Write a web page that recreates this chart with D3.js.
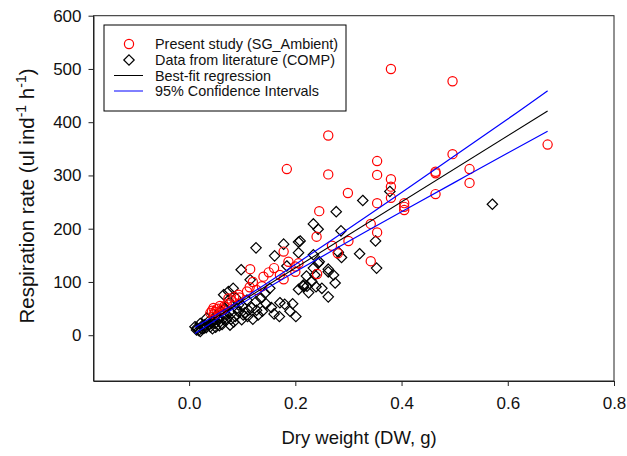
<!DOCTYPE html>
<html>
<head>
<meta charset="utf-8">
<script src="https://cdn.jsdelivr.net/npm/d3@7"></script>
<style>
  body { margin: 0; background: #fff; }
  svg { display: block; font-family: "Liberation Sans", Arial, sans-serif; }
</style>
</head>
<body>
<svg id="chart" width="627" height="456"></svg>
<script>
// present study (SG_Ambient), dry weight g / respiration ul ind-1 h-1
var sgX = [0.380, 0.496, 0.262, 0.184, 0.262, 0.354, 0.354, 0.380, 0.380, 0.380,
  0.299, 0.354, 0.245, 0.405, 0.405, 0.405, 0.464, 0.464, 0.464, 0.496,
  0.528, 0.528, 0.675, 0.342, 0.354, 0.300, 0.342, 0.240, 0.269, 0.280,
  0.178, 0.187, 0.206, 0.200, 0.160, 0.171, 0.178, 0.241, 0.200, 0.140,
  0.115, 0.137, 0.127, 0.114, 0.109, 0.093, 0.095, 0.074, 0.071, 0.058,
  0.046, 0.049, 0.052, 0.043, 0.062, 0.066, 0.080, 0.085, 0.150, 0.120,
  0.047, 0.055, 0.040];
var sgY = [500, 477, 375, 312, 302, 327, 301, 293, 279, 258,
  267, 248, 233, 248, 241, 235, 307, 304, 265, 340,
  312, 286, 358, 209, 193, 177, 139, 185, 168, 154,
  157, 138, 135, 129, 126, 113, 105, 115, 119, 110,
  124, 92, 85, 90, 82, 76, 71, 69, 58, 55,
  51, 44, 49, 46, 48, 54, 65, 72, 118, 100,
  40, 50, 42];

// data from literature (COMP)
var compX = [0.571, 0.378, 0.327, 0.277, 0.234, 0.243, 0.286, 0.351, 0.209, 0.206,
  0.178, 0.321, 0.287, 0.281, 0.234, 0.206, 0.353, 0.243, 0.262, 0.184,
  0.126, 0.161, 0.245, 0.098, 0.115, 0.083, 0.074, 0.065, 0.234, 0.237,
  0.262, 0.215, 0.206, 0.222, 0.239, 0.275, 0.262, 0.171, 0.195, 0.170,
  0.201, 0.145, 0.130, 0.099, 0.077, 0.011, 0.021, 0.033, 0.046, 0.058,
  0.040, 0.028, 0.127, 0.112, 0.093, 0.080, 0.143, 0.152, 0.126, 0.109,
  0.093, 0.071, 0.065, 0.087, 0.052, 0.049, 0.021, 0.014, 0.221, 0.215,
  0.231, 0.272, 0.030, 0.036, 0.055, 0.060, 0.068, 0.075, 0.088, 0.100,
  0.105, 0.118, 0.135, 0.015, 0.025, 0.050, 0.062, 0.084, 0.110, 0.120,
  0.138, 0.155, 0.160, 0.180, 0.190, 0.225, 0.250, 0.018, 0.024, 0.032,
  0.038, 0.044, 0.057, 0.070, 0.079, 0.090, 0.102, 0.044, 0.066];
var compY = [246, 270, 253, 232, 209, 199, 196, 177, 177, 175,
  171, 153, 146, 156, 151, 155, 126, 135, 124, 130,
  164, 149, 138, 123, 104, 88, 82, 76, 126, 113,
  119, 92, 86, 92, 91, 98, 72, 61, 59, 35,
  35, 59, 38, 29, 19, 16, 22, 32, 29, 25,
  16, 13, 47, 47, 44, 41, 79, 88, 63, 66,
  57, 38, 32, 35, 38, 22, 7, 10, 111, 94,
  101, 113, 20, 25, 30, 45, 50, 60, 70, 55,
  42, 52, 70, 14, 18, 15, 20, 25, 35, 30,
  45, 52, 40, 58, 45, 80, 88, 9, 12, 14,
  20, 24, 18, 28, 30, 50, 38, 12, 40];

// regression and 95% confidence band
var fitX = [0.011, 0.675];
var fitY = [9, 421];
var ciX = [0.011, 0.1, 0.2, 0.3, 0.4, 0.5, 0.6, 0.675];
var ciUpper = [15, 68, 133, 200, 268, 337, 406, 459];
var ciLower = [3, 60, 119, 176, 232, 287, 342, 383];

var xTicks = [0, 0.2, 0.4, 0.6, 0.8];
var yTicks = [0, 100, 200, 300, 400, 500, 600];
var legendLabels = ["Present study (SG_Ambient)", "Data from literature (COMP)",
  "Best-fit regression", "95% Confidence Intervals"];

var svg = d3.select("#chart");
var plot = { left: 93.5, right: 614, top: 15.7, bottom: 381 };

var x = d3.scaleLinear().domain([-0.18, 0.8]).range([plot.left, plot.right]);
var y = d3.scaleLinear().domain([-86, 600]).range([plot.bottom, plot.top]);

// frame
svg.append("rect")
  .attr("x", plot.left).attr("y", plot.top)
  .attr("width", plot.right - plot.left).attr("height", plot.bottom - plot.top)
  .attr("fill", "none").attr("stroke", "#222").attr("stroke-width", 1);

var xAxis = svg.append("g")
  .attr("transform", "translate(0," + plot.bottom + ")")
  .call(d3.axisBottom(x).tickValues(xTicks).tickFormat(d3.format(".1f"))
    .tickSizeInner(5).tickSizeOuter(0).tickPadding(11));
var yAxis = svg.append("g")
  .attr("transform", "translate(" + plot.left + ",0)")
  .call(d3.axisLeft(y).tickValues(yTicks).tickSizeInner(5).tickSizeOuter(0).tickPadding(7));

[xAxis, yAxis].forEach(function (g) {
  g.select(".domain").attr("stroke", "#222");
  g.selectAll(".tick line").attr("stroke", "#222");
  g.selectAll(".tick text").attr("font-size", 17).attr("fill", "#111")
    .style("font-family", "'Liberation Sans', Arial, sans-serif");
});

// axis titles
svg.append("text")
  .attr("x", 359).attr("y", 444)
  .attr("text-anchor", "middle").attr("font-size", 18.5).attr("fill", "#111")
  .text("Dry weight (DW, g)");

var yTitle = svg.append("text")
  .attr("transform", "translate(34,196) rotate(-90)")
  .attr("text-anchor", "middle").attr("font-size", 20.5).attr("fill", "#111");
yTitle.append("tspan").text("Respiration rate (ul ind");
yTitle.append("tspan").attr("baseline-shift", "super").attr("font-size", 14).text("-1");
yTitle.append("tspan").text(" h");
yTitle.append("tspan").attr("baseline-shift", "super").attr("font-size", 14).text("-1");
yTitle.append("tspan").text(")");

var diamond = function (r) {
  return "M0," + (-r) + "L" + r + ",0L0," + r + "L" + (-r) + ",0Z";
};

// literature diamonds
svg.append("g").selectAll("path")
  .data(d3.range(compX.length)).enter()
  .append("path")
  .attr("transform", function (i) { return "translate(" + x(compX[i]) + "," + y(compY[i]) + ")"; })
  .attr("d", diamond(5.2))
  .attr("fill", "none").attr("stroke", "#000").attr("stroke-width", 1.2);

// present study circles
svg.append("g").selectAll("circle")
  .data(d3.range(sgX.length)).enter()
  .append("circle")
  .attr("cx", function (i) { return x(sgX[i]); })
  .attr("cy", function (i) { return y(sgY[i]); })
  .attr("r", 4.6)
  .attr("fill", "none").attr("stroke", "#ff0000").attr("stroke-width", 1.2);

// regression + CI
var line = d3.line()
  .x(function (d) { return x(d[0]); })
  .y(function (d) { return y(d[1]); });
var smooth = d3.line()
  .x(function (d) { return x(d[0]); })
  .y(function (d) { return y(d[1]); })
  .curve(d3.curveNatural);

svg.append("path").datum(d3.zip(ciX, ciUpper))
  .attr("d", smooth).attr("fill", "none").attr("stroke", "#0000ff").attr("stroke-width", 1.2);
svg.append("path").datum(d3.zip(ciX, ciLower))
  .attr("d", smooth).attr("fill", "none").attr("stroke", "#0000ff").attr("stroke-width", 1.2);
svg.append("path").datum(d3.zip(fitX, fitY))
  .attr("d", line).attr("fill", "none").attr("stroke", "#000").attr("stroke-width", 1.1);

// legend
var legend = svg.append("g");
legend.append("rect")
  .attr("x", 104).attr("y", 25).attr("width", 242).attr("height", 86)
  .attr("fill", "#fff").attr("stroke", "#000").attr("stroke-width", 1);

var rowY = [44, 60, 75.5, 91];
legend.append("circle").attr("cx", 129).attr("cy", rowY[0]).attr("r", 4.6)
  .attr("fill", "none").attr("stroke", "#ff0000").attr("stroke-width", 1.2);
legend.append("path").attr("transform", "translate(129," + rowY[1] + ")")
  .attr("d", diamond(5.2)).attr("fill", "none").attr("stroke", "#000").attr("stroke-width", 1.2);
legend.append("line").attr("x1", 114).attr("x2", 143).attr("y1", rowY[2]).attr("y2", rowY[2])
  .attr("stroke", "#000");
legend.append("line").attr("x1", 114).attr("x2", 143).attr("y1", rowY[3]).attr("y2", rowY[3])
  .attr("stroke", "#0000ff");

legend.selectAll("text.lab")
  .data(legendLabels).enter()
  .append("text").attr("class", "lab")
  .attr("x", 155).attr("y", function (d, i) { return rowY[i]; })
  .attr("dy", "0.36em").attr("font-size", 14.4).attr("fill", "#111")
  .text(function (d) { return d; });
</script>
</body>
</html>
